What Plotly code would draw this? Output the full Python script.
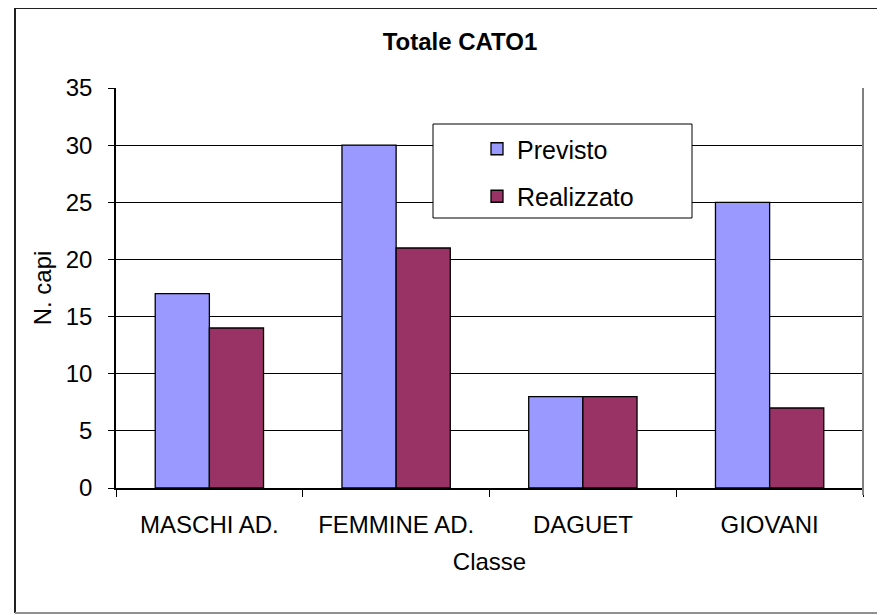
import plotly.graph_objects as go

# Data
categories = ["MASCHI AD.", "FEMMINE AD.", "DAGUET", "GIOVANI"]
previsto = [17, 30, 8, 25]
realizzato = [14, 21, 8, 7]

FONT = "Liberation Sans, Arial, sans-serif"

fig = go.Figure()
fig.add_trace(go.Bar(x=categories, y=previsto, name="Previsto", legendgroup="a",
                     marker=dict(color="#9999FF", line=dict(color="black", width=1.3))))
fig.add_trace(go.Bar(x=categories, y=realizzato, name="Realizzato", legendgroup="b",
                     marker=dict(color="#993366", line=dict(color="black", width=1.3))))

# page has an 8px body margin, so the figure starts at (8, 8)
OFF = 8
W, H = 885 - OFF, 615 - OFF
# plot area in page px: 116..863 x 88..488
L, R, T, B = 116 - OFF, 885 - 863, 88 - OFF, 615 - 488
pw, ph = W - L - R, H - T - B


def px(x):
    return (x - OFF - L) / pw


def py(y):
    return (H - B - (y - OFF)) / ph


shapes = [
    # outer chart border: dark left/top, grey bottom
    dict(type="line", xref="paper", yref="paper", x0=px(15), x1=px(15), y0=py(8), y1=py(613),
         line=dict(color="#202020", width=2)),
    dict(type="line", xref="paper", yref="paper", x0=px(15), x1=px(900), y0=py(8), y1=py(8),
         line=dict(color="#202020", width=2)),
    dict(type="line", xref="paper", yref="paper", x0=px(15), x1=px(900), y0=py(613), y1=py(613),
         line=dict(color="#909090", width=2)),
    # grey right edge of the plot area
    dict(type="line", xref="paper", yref="paper", x0=1, x1=1, y0=py(495), y1=1,
         line=dict(color="#808080", width=2)),
    # legend box
    dict(type="rect", xref="paper", yref="paper", x0=px(433), x1=px(692), y0=py(124), y1=py(218),
         line=dict(color="black", width=1), fillcolor="white"),
]

fig.update_layout(
    width=W, height=H,
    margin=dict(l=L, r=R, t=T, b=B),
    paper_bgcolor="white", plot_bgcolor="white",
    font=dict(family=FONT, size=24, color="black"),
    barmode="group", bargap=0.42, bargroupgap=0,
    title=dict(text="<b>Totale CATO1</b>", x=(460 - OFF) / W, xanchor="center",
               y=1 - (42 - OFF) / H, yanchor="middle",
               font=dict(size=24, family=FONT)),
    showlegend=True,
    legend=dict(x=px(477), y=py(126), xanchor="left", yanchor="top", bgcolor="rgba(0,0,0,0)",
                borderwidth=0, traceorder="grouped", tracegroupgap=12,
                font=dict(size=25, family=FONT)),
    shapes=shapes,
)

fig.update_xaxes(
    showline=True, linecolor="black", linewidth=1.5,
    ticks="outside", tickson="boundaries", ticklen=7, tickcolor="black", tickwidth=1,
    ticklabelstandoff=14,
    title=dict(text="Classe", standoff=17, font=dict(size=24)),
    showgrid=False,
)
fig.update_yaxes(
    range=[0, 35], dtick=5, showline=True, linecolor="black", linewidth=1.5,
    ticks="outside", ticklen=6, tickcolor="black", tickwidth=1,
    ticklabelstandoff=11,
    showgrid=True, gridcolor="black", gridwidth=1,
    zeroline=False,
    title=dict(text="N. capi", standoff=7, font=dict(size=24)),
)

fig.write_html("out.html")
